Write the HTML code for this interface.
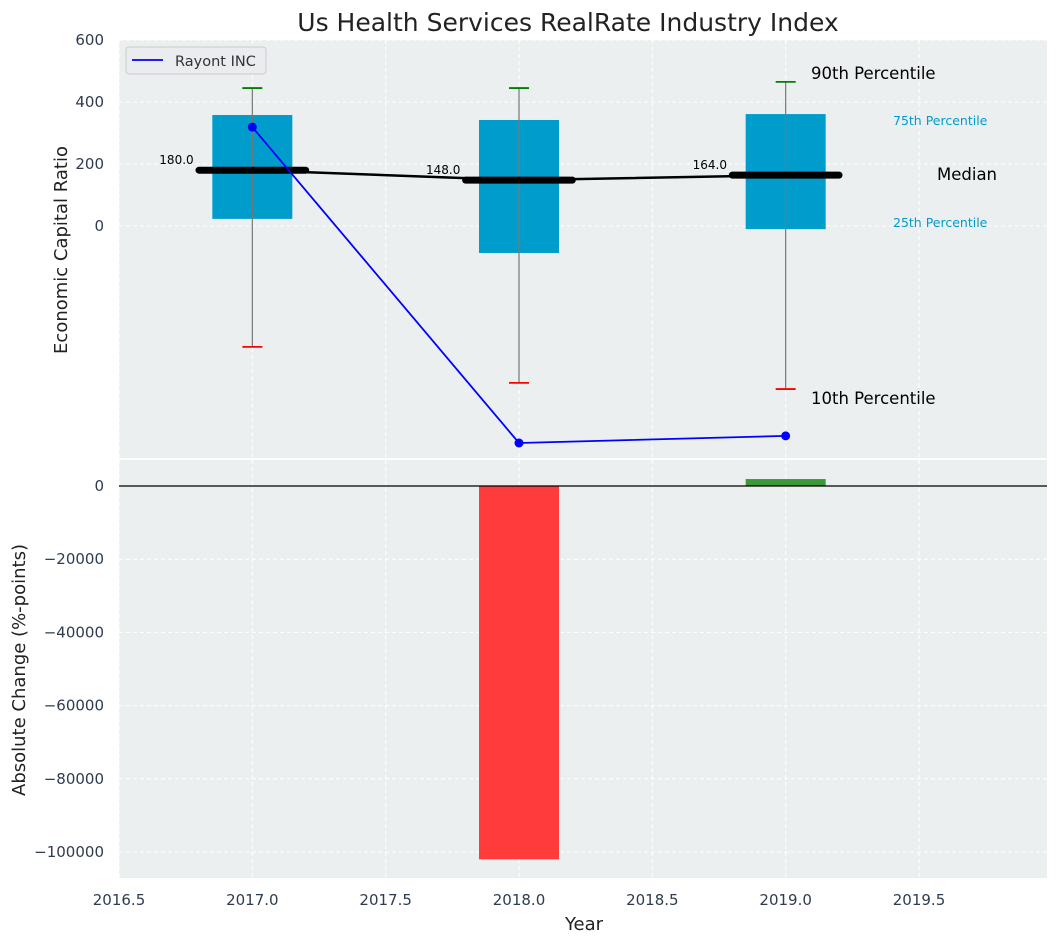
<!DOCTYPE html>
<html><head><meta charset="utf-8"><style>
body{margin:0;background:#fff;font-family:"Liberation Sans","DejaVu Sans",sans-serif}
svg text{font-family:"DejaVu Sans","Liberation Sans",sans-serif}
</style></head><body>
<svg id="c" width="1058" height="942" xmlns="http://www.w3.org/2000/svg"></svg>
<script>
const years=[2017,2018,2019];
const q10=[-390,-506,-526];
const q25=[23,-87,-10];
const medians=[180,148,164];
const q75=[358,342,361];
const q90=[445,445,465];
const rayont=[319,-700,-677];
const changes=[0,-102000,1900];
const xTicks=[2016.5,2017.0,2017.5,2018.0,2018.5,2019.0,2019.5];
const topTicks=[600,400,200,0];
const botTicks=[0,-20000,-40000,-60000,-80000,-100000];

const NS="http://www.w3.org/2000/svg";
const svg=document.getElementById('c');
function el(t,a,txt){const e=document.createElementNS(NS,t);for(const k in a)e.setAttribute(k,a[k]);if(txt!==undefined)e.textContent=txt;svg.appendChild(e);return e;}
const L=119,R=1047;
const x=v=>L+(v-2016.5)*(R-L)/(2019.98-2016.5);
const T0=40,T1=458; const yT=v=>226-v*0.31;
const B0=460,B1=878; const yB=v=>486-v*0.00366;

let e;
e=el('rect',{x:L,y:T0,width:R-L,height:T1-T0,fill:'#eceff0'});

e=el('rect',{x:L,y:B0,width:R-L,height:B1-B0,fill:'#eceff0'});


xTicks.forEach(t=>{
 e=el('line',{x1:x(t),x2:x(t),y1:T0,y2:T1,stroke:'#fff','stroke-dasharray':'4,3'});
 
 e=el('line',{x1:x(t),x2:x(t),y1:B0,y2:B1,stroke:'#fff','stroke-dasharray':'4,3'});
 
 e=el('text',{x:x(t),y:905,'text-anchor':'middle','font-size':15,fill:'#2e3c50'},t.toFixed(1));
 
});
topTicks.forEach(t=>{
 e=el('line',{x1:L,x2:R,y1:yT(t),y2:yT(t),stroke:'#fff','stroke-dasharray':'4,3'});
 
 e=el('text',{x:104,y:yT(t)+5,'text-anchor':'end','font-size':15,fill:'#2e3c50'},String(t));
 
});
botTicks.forEach(t=>{
 e=el('line',{x1:L,x2:R,y1:yB(t),y2:yB(t),stroke:'#fff','stroke-dasharray':'4,3'});
 
 e=el('text',{x:104,y:yB(t)+5,'text-anchor':'end','font-size':15,fill:'#2e3c50'},t===0?'0':'\u2212'+Math.abs(t));
 
});

const hw=(x(2017.15)-x(2017));
years.forEach((yr,i)=>{
 const cx=x(yr);
 e=el('rect',{x:cx-hw,y:yT(q75[i]),width:2*hw,height:yT(q25[i])-yT(q75[i]),fill:'#009ccc'});
 
 e=el('line',{x1:cx,x2:cx,y1:yT(q90[i]),y2:yT(q10[i]),stroke:'#777','stroke-width':1.2});
 
 e=el('line',{x1:cx-10,x2:cx+10,y1:yT(q90[i]),y2:yT(q90[i]),stroke:'green','stroke-width':1.8});
 
 e=el('line',{x1:cx-10,x2:cx+10,y1:yT(q10[i]),y2:yT(q10[i]),stroke:'red','stroke-width':1.8});
 
});
e=el('polyline',{points:years.map((y,i)=>x(y)+','+yT(medians[i])).join(' '),fill:'none',stroke:'#000','stroke-width':2.5});

years.forEach((yr,i)=>{
 const cx=x(yr),cy=yT(medians[i]);
 e=el('line',{x1:x(yr-0.2),x2:x(yr+0.2),y1:cy,y2:cy,stroke:'#000','stroke-width':7,'stroke-linecap':'round'});
 
 e=el('text',{x:x(yr-0.22),y:cy-6,'text-anchor':'end','font-size':12,fill:'#000'},medians[i].toFixed(1));
 
});
e=el('polyline',{points:years.map((y,i)=>x(y)+','+yT(rayont[i])).join(' '),fill:'none',stroke:'blue','stroke-width':1.8});

years.forEach((yr,i)=>{
 e=el('circle',{cx:x(yr),cy:yT(rayont[i]),r:4.5,fill:'blue'});
 
});
const ann=[[811,79,'90th Percentile',16.5,'#000'],[893,125,'75th Percentile',12.5,'#009ccc'],[937,180,'Median',16.5,'#000'],[893,227,'25th Percentile',12.5,'#009ccc'],[811,404,'10th Percentile',16.5,'#000']];
ann.forEach(a=>{e=el('text',{x:a[0],y:a[1],'font-size':a[3],fill:a[4]},a[2]);});

years.forEach((yr,i)=>{
 const v=changes[i]; if(v===0)return;
 const y0=yB(0),y1=yB(v);
 e=el('rect',{x:x(yr)-hw,y:Math.min(y0,y1),width:2*hw,height:Math.abs(y1-y0),fill:v<0?'#ff3b3b':'#3a9a3a'});
 
});
e=el('line',{x1:L,x2:R,y1:yB(0),y2:yB(0),stroke:'#000','stroke-width':1.2});


e=el('rect',{x:126,y:47,width:140,height:27,rx:3,fill:'#eaecef',stroke:'#ccc'});

e=el('line',{x1:132,x2:163,y1:60,y2:60,stroke:'blue','stroke-width':1.8});

e=el('text',{x:175,y:66,'font-size':14.5,fill:'#333'},'Rayont INC');


e=el('text',{x:568,y:31,'text-anchor':'middle','font-size':25,fill:'#222'},'Us Health Services RealRate Industry Index');

e=el('text',{x:584,y:930,'text-anchor':'middle','font-size':18,fill:'#222'},'Year');

e=el('text',{x:0,y:0,'text-anchor':'middle','font-size':18,fill:'#222',transform:'translate(67,250) rotate(-90)'},'Economic Capital Ratio');

e=el('text',{x:0,y:0,'text-anchor':'middle','font-size':18,fill:'#222',transform:'translate(25,670) rotate(-90)'},'Absolute Change (%-points)');

</script>
</body></html>
